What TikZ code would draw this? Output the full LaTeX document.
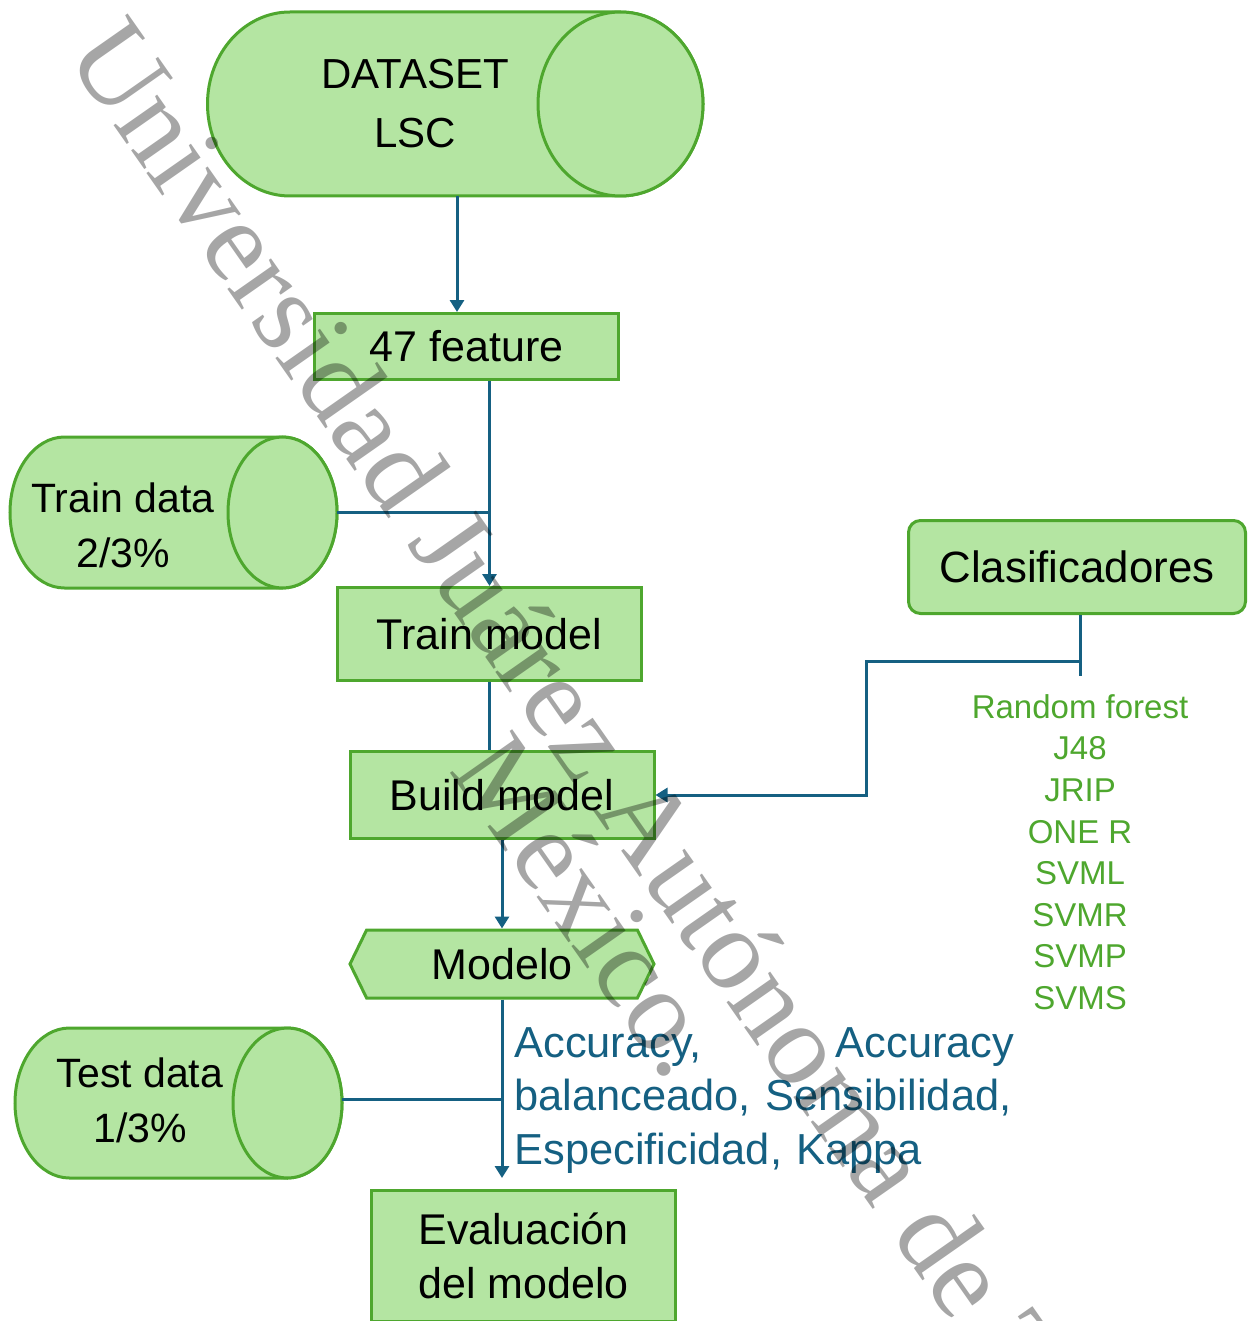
\documentclass[tikz,border=0pt]{standalone}
\usepackage{fontspec}
\setmainfont{Liberation Sans}
\newfontfamily\wmfont{Liberation Serif}
\usetikzlibrary{arrows.meta,shapes.symbols,calc}

\definecolor{grfill}{HTML}{B4E5A2}
\definecolor{grline}{HTML}{4EA72E}
\definecolor{flowblue}{HTML}{156082}

\tikzset{
  box/.style={draw=grline, fill=grfill, line width=1.5pt, minimum width=152pt, inner sep=0pt, align=center, font=\fontsize{21.5pt}{27pt}\selectfont},
  drumshape/.style={draw=grline, fill=grfill, line width=1.5pt},
  store/.style={inner sep=0pt, align=center, font=\fontsize{20.5pt}{27.5pt}\selectfont},
  feed/.style={draw=flowblue, line width=1.5pt, -{Triangle[width=7pt,length=6pt]}},
  wire/.style={draw=flowblue, line width=1.5pt},
  wmark/.style={text=black, opacity=0.35, font=\wmfont\fontsize{58pt}{58pt}\selectfont, inner sep=0pt}
}

% lying cylinder: left centre x, right centre x, centre y, x radius, y radius (all px)
\newcommand{\drawstore}[5]{%
  \path[drumshape] (#1,#3-#5) -- (#2,#3-#5)
    arc[start angle=90, end angle=-90, x radius=#4*0.5pt, y radius=#5*0.5pt]
    -- (#1,#3+#5)
    arc[start angle=270, end angle=90, x radius=#4*0.5pt, y radius=#5*0.5pt] -- cycle;
  \path[drumshape] (#2,#3) ellipse[x radius=#4*0.5pt, y radius=#5*0.5pt];}

\begin{document}
\begin{tikzpicture}[x=0.5pt, y=-0.5pt]
\useasboundingbox (0,0) rectangle (1248,1321);
\clip (0,0) rectangle (1248,1321);

% data stores
\drawstore{290}{620.5}{104}{82.5}{92}
\node[store, font=\fontsize{21pt}{29.5pt}\selectfont] (ds) at (415,104) {DATASET\\LSC};
\coordinate (ds-s) at (457,196);
\drawstore{64.5}{282.5}{512.5}{54.5}{75.5}
\node[store] (trd) at (123,525) {Train data\\2/3\%};
\coordinate (trd-e) at (337,512.5);
\drawstore{69.5}{287.5}{1103}{54.5}{75}
\node[store] (ted) at (140,1100) {Test data\\1/3\%};
\coordinate (ted-e) at (342,1099);

% process boxes
\node[box, minimum height=33pt] (feat) at (466.5,346.5) {47 feature};
\node[box, minimum height=46.5pt] (train) at (489.5,634) {Train model};
\node[box, minimum height=43.5pt] (build) at (502,795) {Build model};
\node[box, signal, signal to=east and west, signal pointer angle=128, minimum height=34pt] (modelo) at (502,964) {Modelo};
\node[box, minimum height=65.5pt] (eval) at (523.5,1256) {Evaluación\\del modelo};
\node[box, rounded corners=6pt, minimum width=168.5pt, minimum height=46.5pt, font=\fontsize{21.9pt}{27pt}\selectfont] (clas) at (1077,567) {Clasificadores};

% texts
\node[text=grline, align=center, font=\fontsize{16.5pt}{20.8pt}\selectfont] (algs) at (1080,852) {Random forest\\J48\\JRIP\\ONE R\\SVML\\SVMR\\SVMP\\SVMS};
\node[text=flowblue, text width=250pt, align=left, inner sep=0pt, anchor=north west, font=\fontsize{21.7pt}{26.75pt}\selectfont] (metrics) at (514,1027) {Accuracy,\hfill Accuracy\\balanceado, Sensibilidad,\\Especificidad, Kappa};

% connectors
\draw[feed] (ds-s) -- (ds-s |- feat.north);
\draw[feed] (feat.south -| train.north) -- (train.north);
\draw[wire] (trd-e) -- (trd-e -| train.north);
\draw[wire] (train.south) -- (train.south |- build.north);
\draw[feed] (build.south) -- (modelo.north);
\draw[feed, shorten >=5.5pt] (modelo.south) -- (modelo.south |- eval.north);
\draw[wire] (ted-e) -- (ted-e -| modelo.south);
\coordinate (stem) at (clas.south -| algs.north);
\coordinate (tee) at ($(stem)+(0,46)$);
\coordinate (bend) at (866,661);
\draw[wire] (stem) -- ++(0,61);
\draw[feed] (tee) -- (bend) |- (build.east);

% watermark
\node[wmark, rotate=-55, anchor=base west] (wmA) at (64,55) {Universidad Juárez Autónoma de Tabasco.};
\node[wmark, rotate=-55, anchor=base west] (wmB) at (448,770) {México.};
\end{tikzpicture}
\end{document}
